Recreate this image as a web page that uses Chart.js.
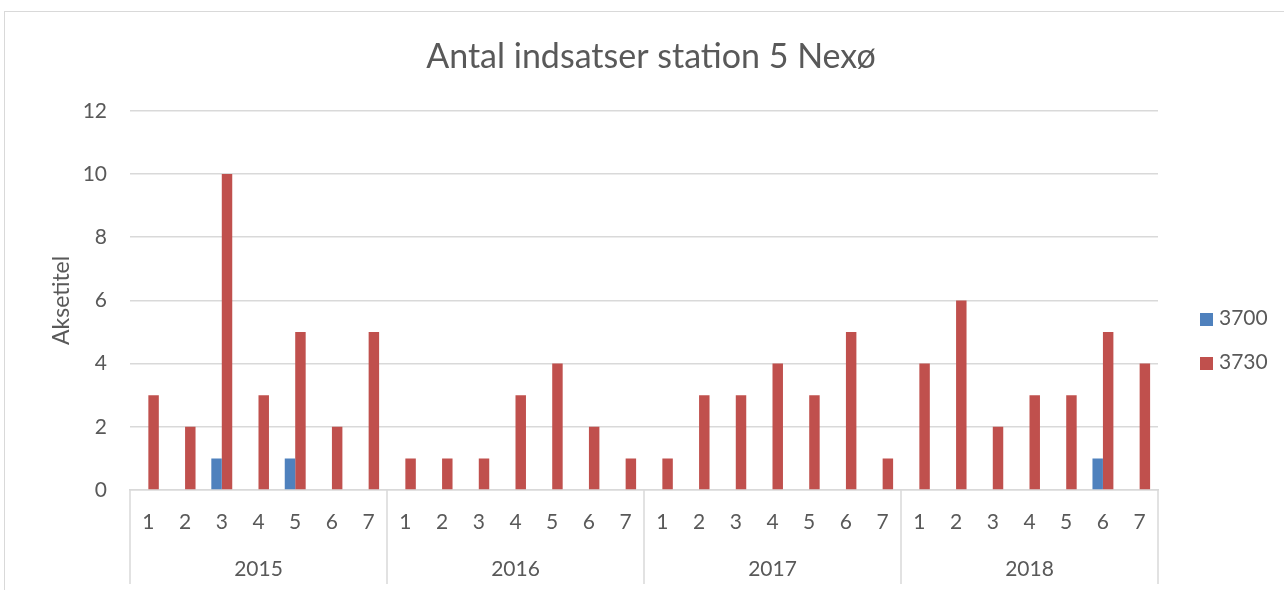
<!DOCTYPE html>
<html>
<head>
<meta charset="utf-8">
<script src="https://cdn.jsdelivr.net/npm/chart.js@4/dist/chart.umd.min.js"></script>
<style>
    html, body { margin: 0; padding: 0; background: #fff; overflow: hidden; }
    #wrap { position: relative; width: 1284px; height: 590px; }
    #frame { position: absolute; left: 4px; top: 11px; width: 1400px; height: 700px; border: 1px solid #d9d9d9; }
    #chart { position: absolute; left: 0; top: 0; }
    .legend { position: absolute; left: 1200px; font-family: Lato, sans-serif; font-size: 21px; color: #595959; }
    .legend-item { position: absolute; left: 0; white-space: nowrap; line-height: 21px; }
    .legend-item span { display: inline-block; width: 13px; height: 13px; margin-right: 6px; vertical-align: -1px; }
</style>
</head>
<body>
<div id="wrap">
    <div id="frame"></div>
    <canvas id="chart" width="1284" height="590"></canvas>
    <div class="legend" id="legend"></div>
</div>
<script>
// Data
const chartTitle = 'Antal indsatser station 5 Nexø';
const yTitle = 'Aksetitel';
const years = ['2015', '2016', '2017', '2018'];
const months = ['1', '2', '3', '4', '5', '6', '7'];
const seriesNames = ['3700', '3730'];
const values3700 = [0, 0, 1, 0, 1, 0, 0,  0, 0, 0, 0, 0, 0, 0,  0, 0, 0, 0, 0, 0, 0,  0, 0, 0, 0, 0, 1, 0];
const values3730 = [3, 2, 10, 3, 5, 2, 5,  1, 1, 1, 3, 4, 2, 1,  1, 3, 3, 4, 3, 5, 1,  4, 6, 2, 3, 3, 5, 4];
const yTicks = [0, 2, 4, 6, 8, 10, 12];

const colors = ['#4f81bd', '#c0504d'];
const textColor = '#595959';
const lineColor = '#d9d9d9';
const font = 'Lato, sans-serif';

const labels = years.flatMap(() => months);

// vertical lines separating the year groups under the axis
const yearSeparators = {
    id: 'yearSeparators',
    afterDraw(chart) {
        const x = chart.scales.x, x2 = chart.scales.x2;
        const ctx = chart.ctx;
        const per = months.length;
        const xs = [chart.chartArea.left];
        for (let i = 1; i < years.length; i++) {
            xs.push((x.getPixelForTick(i * per - 1) + x.getPixelForTick(i * per)) / 2);
        }
        xs.push(chart.chartArea.right);
        ctx.save();
        ctx.strokeStyle = lineColor;
        ctx.lineWidth = 1.5;
        xs.forEach(px => {
            ctx.beginPath();
            ctx.moveTo(px, chart.chartArea.bottom);
            ctx.lineTo(px, x2.bottom);
            ctx.stroke();
        });
        ctx.restore();
    }
};

const chart = new Chart(document.getElementById('chart'), {
    type: 'bar',
    data: {
        labels: labels,
        datasets: [
            { label: seriesNames[0], data: values3700, backgroundColor: colors[0], xAxisID: 'x', yAxisID: 'y' },
            { label: seriesNames[1], data: values3730, backgroundColor: colors[1], xAxisID: 'x', yAxisID: 'y' }
        ]
    },
    options: {
        responsive: false,
        animation: false,
        datasets: { bar: { categoryPercentage: 0.57, barPercentage: 1.0 } },
        layout: { padding: { left: 18, right: 0, top: 0, bottom: 6 } },
        plugins: {
            legend: { display: false },
            tooltip: { enabled: false },
            title: {
                display: true,
                text: chartTitle,
                color: textColor,
                font: { family: font, size: 34, weight: 'normal' },
                padding: { top: 37, bottom: 33 }
            }
        },
        scales: {
            y: {
                min: 0,
                max: 12,
                afterBuildTicks: s => { s.ticks = yTicks.map(v => ({ value: v })); },
                afterFit: s => { s.width = 112; },
                grid: { color: lineColor, lineWidth: 1.5, drawTicks: false },
                border: { display: false },
                ticks: { color: textColor, font: { family: font, size: 21 }, padding: 23 },
                title: {
                    display: true,
                    text: yTitle,
                    color: textColor,
                    font: { family: font, size: 23 },
                    padding: { top: 30, bottom: 0 }
                }
            },
            // empty room on the right for the legend
            yr: {
                type: 'linear',
                position: 'right',
                afterFit: s => { s.width = 126; },
                grid: { display: false },
                border: { display: false },
                ticks: { display: false }
            },
            x: {
                weight: 0,
                afterFit: s => { s.height = 54; },
                grid: { display: false },
                border: { display: true, color: lineColor, width: 1.5 },
                ticks: { color: textColor, font: { family: font, size: 21 }, padding: 12, maxRotation: 0, autoSkip: false }
            },
            x2: {
                type: 'category',
                position: 'bottom',
                weight: 1,
                labels: years,
                offset: true,
                afterFit: s => { s.height = 40; },
                grid: { display: false },
                border: { display: false },
                ticks: { color: textColor, font: { family: font, size: 21 }, padding: 5, maxRotation: 0 }
            }
        }
    },
    plugins: [yearSeparators]
});

// legend to the right, built from the datasets
const legendEl = document.getElementById('legend');
chart.data.datasets.forEach((ds, i) => {
    const item = document.createElement('div');
    item.className = 'legend-item';
    item.style.top = (306 + i * 44) + 'px';
    item.innerHTML = '<span style="background:' + ds.backgroundColor + '"></span>' + ds.label;
    legendEl.appendChild(item);
});
</script>
</body>
</html>
